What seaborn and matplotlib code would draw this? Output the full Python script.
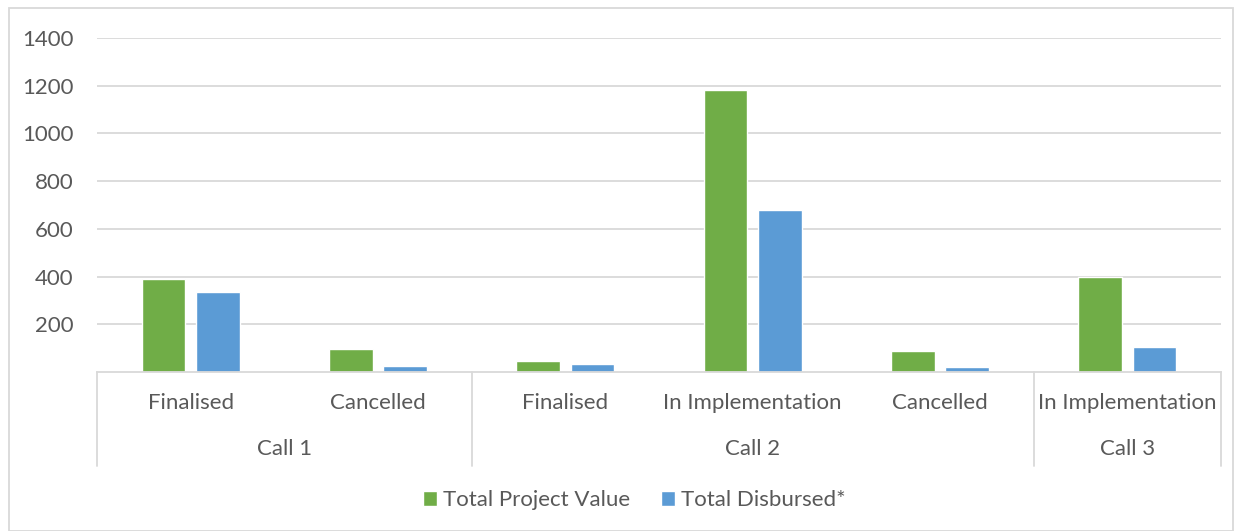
import pandas as pd
import seaborn as sns
import matplotlib.pyplot as plt
from matplotlib.patches import Rectangle, Patch
import matplotlib.transforms as mtransforms

calls = ["Call 1", "Call 1", "Call 2", "Call 2", "Call 2", "Call 3"]
statuses = ["Finalised", "Cancelled", "Finalised", "In Implementation", "Cancelled", "In Implementation"]
project_value = [390, 96, 46, 1180, 88, 398]
disbursed = [336, 25, 34, 680, 21, 105]
series_names = ["Total Project Value", "Total Disbursed*"]
colors = ["#70ad47", "#5b9bd5"]
group_names = ["Call 1", "Call 2", "Call 3"]

TEXT = "#595959"
GRID = "#d9d9d9"
FS = 16

def build_frame():
    keys = [f"{c}|{s}" for c, s in zip(calls, statuses)]
    rows = []
    for k, v in zip(keys, project_value):
        rows.append({"cat": k, "series": series_names[0], "value": v})
    for k, v in zip(keys, disbursed):
        rows.append({"cat": k, "series": series_names[1], "value": v})
    return pd.DataFrame(rows), keys

def main():
    sns.set_style("white")
    plt.rcParams["font.family"] = ["Lato", "DejaVu Sans"]

    df, keys = build_frame()
    fig = plt.figure(figsize=(12.36, 5.31), dpi=100)
    ax = fig.add_axes([97 / 1236, 1 - 372 / 531, (1221 - 97) / 1236, (372 - 38) / 531])

    sns.barplot(data=df, x="cat", y="value", hue="series", order=keys,
                hue_order=series_names, palette=colors, saturation=1,
                width=0.58, gap=0.2, ax=ax, legend=False)

    ax.set_xlim(-0.5, len(keys) - 0.5)
    ax.set_ylim(0, 1400)
    ax.set_yticks(range(200, 1401, 200))
    ax.tick_params(axis="y", labelsize=FS, labelcolor=TEXT, length=0, pad=17)
    ax.yaxis.grid(True, color=GRID, linewidth=1.3)
    ax.set_axisbelow(True)
    for s in ["top", "right", "left"]:
        ax.spines[s].set_visible(False)
    ax.spines["bottom"].set_color(GRID)
    ax.spines["bottom"].set_linewidth(1.3)
    ax.set_xticks([])
    ax.set_xlabel("")
    ax.set_ylabel("")

    trans = mtransforms.blended_transform_factory(ax.transData, ax.transAxes)
    for i, s in enumerate(statuses):
        ax.text(i, -0.093, s, transform=trans, ha="center", va="center",
                fontsize=FS, color=TEXT)

    # group labels and separators
    bounds = [-0.5]
    for g in group_names:
        n = calls.count(g)
        bounds.append(bounds[-1] + n)
    for g, a, b in zip(group_names, bounds[:-1], bounds[1:]):
        ax.text((a + b) / 2, -0.23, g, transform=trans, ha="center", va="center",
                fontsize=FS, color=TEXT)
    for b in bounds:
        ax.plot([b, b], [0, -0.28], transform=trans, color=GRID, lw=1.3, clip_on=False)

    handles = [Patch(facecolor=c, label=n) for c, n in zip(colors, series_names)]
    leg = fig.legend(handles=handles, loc="center", bbox_to_anchor=(634 / 1236, 1 - 500 / 531),
                     ncol=2, frameon=False, fontsize=FS, handlelength=0.65,
                     handleheight=0.65, handletextpad=0.25, columnspacing=1.4)
    for t in leg.get_texts():
        t.set_color(TEXT)

    fig.patches.append(Rectangle((9 / 1236, 0), 1224 / 1236, 1 - 8 / 531,
                                 transform=fig.transFigure, fill=False,
                                 edgecolor=GRID, lw=1.3))

    fig.savefig("out.png", dpi=100)

if __name__ == "__main__":
    main()
